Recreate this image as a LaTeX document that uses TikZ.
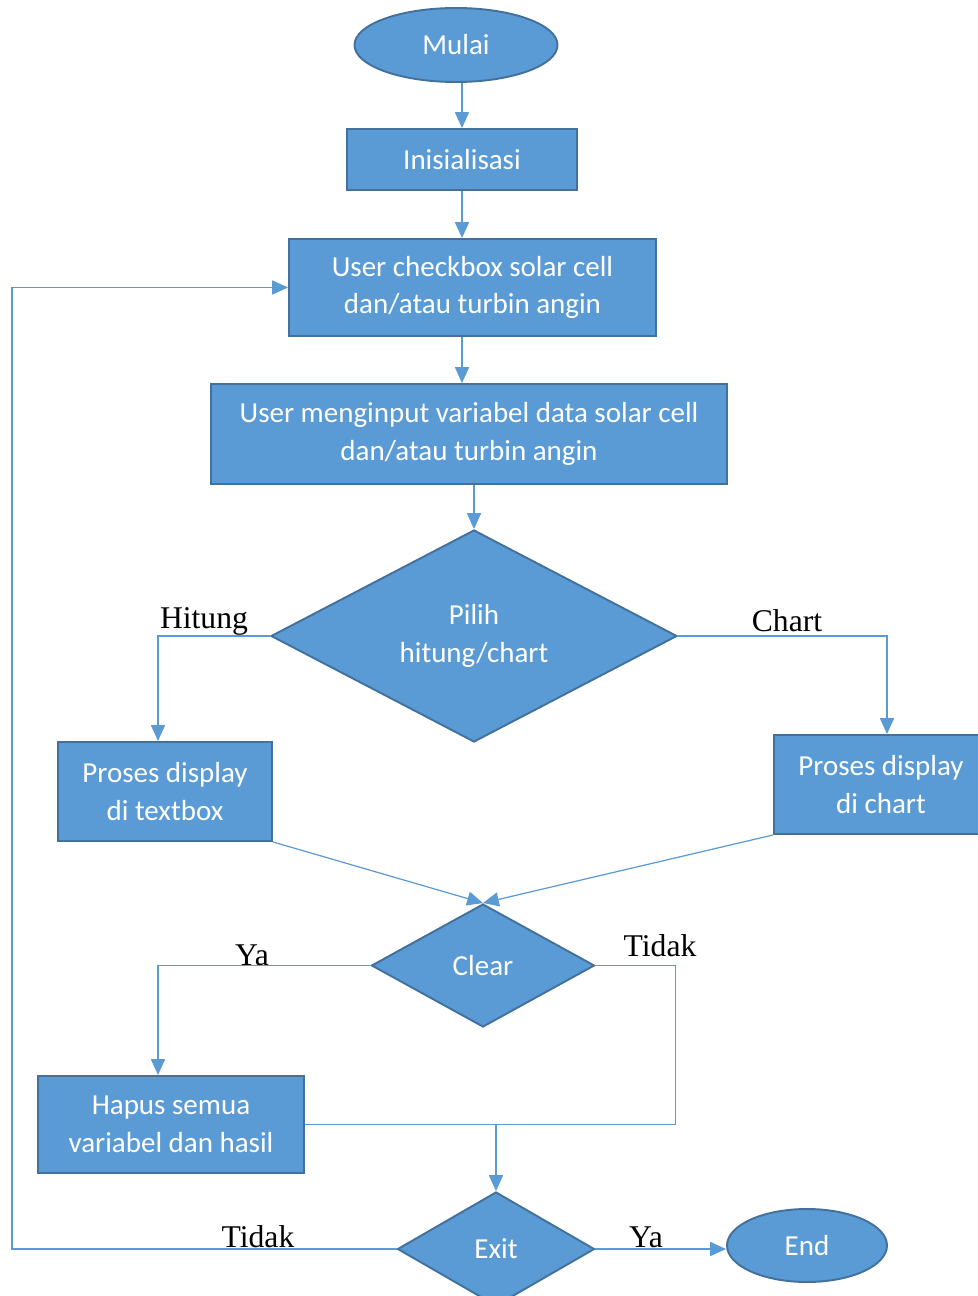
\documentclass[tikz,border=0pt]{standalone}
\usepackage{fontspec}
\setmainfont{Liberation Serif}
\newfontfamily\calibri{Carlito}
\usetikzlibrary{shapes.geometric,arrows.meta}
\definecolor{boxblue}{RGB}{91,155,213}
\definecolor{edgeblue}{RGB}{65,113,156}
\definecolor{lineblue}{RGB}{91,155,213}
\begin{document}
\begin{tikzpicture}[
	blok/.style={shape=rectangle,draw=edgeblue,fill=boxblue,line width=1.1pt,text=white,align=center,font=\calibri\fontsize{16.5}{21.5}\selectfont},
	oval/.style={blok,shape=ellipse},
	pilihan/.style={blok,shape=diamond,inner sep=0pt},
	garis/.style={draw=lineblue,line width=0.7pt},
	panah/.style={garis,-{Triangle[length=9pt,width=8pt]}},
	ket/.style={font=\fontsize{18}{20}\selectfont}]
	\useasboundingbox (0,0) rectangle (19.54,-25.92);

	\node[oval,minimum width=4.06cm,minimum height=1.48cm] (mulai) at (9.12,-0.9) {Mulai};
	\node[blok,minimum width=4.6cm,minimum height=1.22cm] (init) at (9.24,-3.19) {Inisialisasi};
	\node[blok,minimum width=7.34cm,minimum height=1.94cm] (check) at (9.45,-5.75) {User checkbox solar cell\\dan/atau turbin angin};
	\node[blok,minimum width=10.32cm,minimum height=2.0cm] (input) at (9.38,-8.68) {User menginput variabel data solar cell\\dan/atau turbin angin};
	\node[pilihan,minimum width=8.12cm,minimum height=4.24cm] (pilih) at (9.48,-12.72) {Pilih\\hitung/chart};
	\node[blok,minimum width=4.28cm,minimum height=1.98cm] (textbox) at (3.3,-15.83) {Proses display\\di textbox};
	\node[blok,minimum width=4.28cm,minimum height=1.98cm] (chart) at (17.62,-15.69) {Proses display\\di chart};
	\node[pilihan,minimum width=4.46cm,minimum height=2.46cm] (clear) at (9.66,-19.31) {Clear};
	\node[blok,minimum width=5.32cm,minimum height=1.94cm] (hapus) at (3.42,-22.49) {Hapus semua\\variabel dan hasil};
	\node[pilihan,minimum width=3.94cm,minimum height=2.28cm] (exit) at (9.92,-24.98) {Exit};
	\node[oval,minimum width=3.2cm,minimum height=1.46cm] (end) at (16.14,-24.91) {End};

	\node[ket] (hitung) at (4.08,-12.42) {Hitung};
	\node[ket] (chartlbl) at (15.74,-12.42) {Chart};
	\node[ket] (yaclear) at (5.04,-19.1) {Ya};
	\node[ket] (tidakclear) at (13.2,-18.92) {Tidak};
	\node[ket] (tidakexit) at (5.16,-24.74) {Tidak};
	\node[ket] (yaexit) at (12.92,-24.74) {Ya};

	\coordinate (loop) at (0.24,0);
	\coordinate (gabung) at (hapus.east -| exit.north);

	\draw[panah] (mulai.south -| init.north) -- (init.north);
	\draw[panah] (init.south) -- (init.south |- check.north);
	\draw[panah] (check.south -| init.south) -- (input.north -| init.south);
	\draw[panah] (input.south -| pilih.north) -- (pilih.north);
	\draw[panah] (pilih.west) -| ([xshift=-0.14cm]textbox.north);
	\draw[panah] (pilih.east) -| ([xshift=0.12cm]chart.north);
	\draw[panah] (textbox.south east) -- (clear.north);
	\draw[panah] (chart.south west) -- (clear.north);
	\draw[panah] (clear.west) -| ([xshift=-0.26cm]hapus.north);
	\draw[garis] (clear.east) -- ++(1.6,0) |- (hapus.east);
	\draw[panah] (gabung) -- (exit.north);
	\draw[panah] (exit.west) -- (exit.west -| loop) |- (check.west);
	\draw[panah] (exit.east) -- (exit.east -| end.west);
\end{tikzpicture}
\end{document}
